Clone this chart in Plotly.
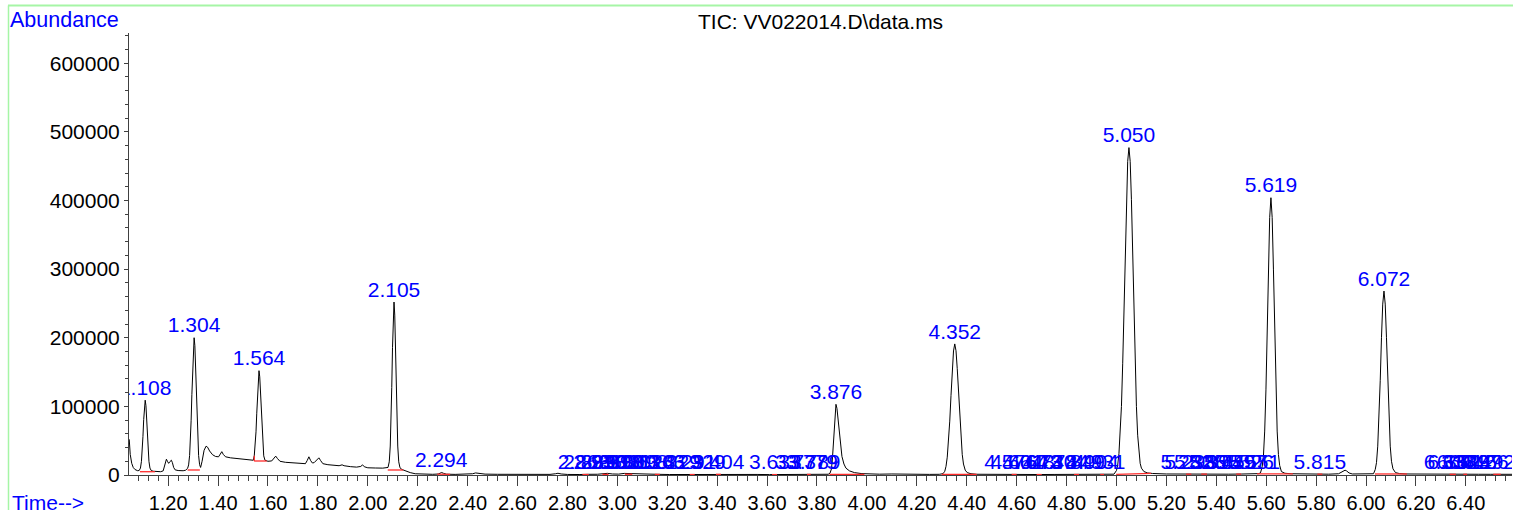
import plotly.graph_objects as go

# ---------------- data ----------------
tic_time = [
    1.044, 1.048, 1.054, 1.060, 1.067, 1.078, 1.084, 1.089, 1.093, 1.096, 1.099, 1.102, 1.105, 1.108,
    1.111, 1.114, 1.117, 1.120, 1.123, 1.127, 1.132, 1.140, 1.155, 1.170, 1.180, 1.185, 1.190, 1.193,
    1.197, 1.202, 1.207, 1.213, 1.217, 1.222, 1.228, 1.240, 1.260, 1.270, 1.278, 1.282, 1.286, 1.289,
    1.292, 1.295, 1.298, 1.301, 1.304, 1.307, 1.310, 1.313, 1.316, 1.319, 1.322, 1.326, 1.330, 1.336,
    1.344, 1.352, 1.358, 1.366, 1.378, 1.390, 1.402, 1.409, 1.415, 1.421, 1.430, 1.450, 1.480, 1.510,
    1.535, 1.541, 1.545, 1.549, 1.552, 1.555, 1.558, 1.561, 1.564, 1.567, 1.570, 1.573, 1.576, 1.579,
    1.583, 1.588, 1.600, 1.615, 1.624, 1.631, 1.638, 1.648, 1.670, 1.700, 1.730, 1.750, 1.757, 1.764,
    1.771, 1.778, 1.785, 1.797, 1.804, 1.811, 1.820, 1.840, 1.860, 1.885, 1.897, 1.905, 1.930, 1.955,
    1.972, 1.979, 1.986, 2.000, 2.030, 2.060, 2.081, 2.086, 2.090, 2.093, 2.096, 2.099, 2.102, 2.105,
    2.108, 2.111, 2.114, 2.117, 2.120, 2.124, 2.129, 2.137, 2.150, 2.170, 2.190, 2.220, 2.260, 2.282,
    2.290, 2.296, 2.303, 2.315, 2.350, 2.400, 2.420, 2.432, 2.445, 2.470, 2.520, 2.570, 2.620, 2.680,
    2.730, 2.752, 2.762, 2.775, 2.800, 2.850, 2.870, 2.885, 2.920, 2.945, 2.960, 2.980, 3.005, 3.028,
    3.045, 3.070, 3.110, 3.160, 3.210, 3.260, 3.310, 3.360, 3.400, 3.430, 3.500, 3.560, 3.610, 3.660,
    3.710, 3.760, 3.800, 3.835, 3.845, 3.852, 3.858, 3.862, 3.866, 3.870, 3.873, 3.876, 3.880, 3.885,
    3.890, 3.895, 3.900, 3.908, 3.916, 3.930, 3.950, 3.980, 4.010, 4.050, 4.100, 4.150, 4.200, 4.250,
    4.290, 4.305, 4.312, 4.317, 4.322, 4.327, 4.332, 4.337, 4.342, 4.347, 4.352, 4.357, 4.362, 4.367,
    4.372, 4.377, 4.382, 4.387, 4.394, 4.402, 4.417, 4.440, 4.480, 4.520, 4.560, 4.600, 4.650, 4.700,
    4.750, 4.800, 4.850, 4.900, 4.950, 4.990, 5.000, 5.005, 5.010, 5.015, 5.020, 5.025, 5.030, 5.035,
    5.040, 5.045, 5.050, 5.055, 5.060, 5.065, 5.070, 5.075, 5.080, 5.085, 5.090, 5.095, 5.100, 5.110,
    5.125, 5.145, 5.200, 5.250, 5.300, 5.350, 5.400, 5.450, 5.500, 5.550, 5.570, 5.577, 5.584, 5.589,
    5.594, 5.599, 5.604, 5.609, 5.614, 5.619, 5.624, 5.629, 5.634, 5.639, 5.644, 5.649, 5.654, 5.661,
    5.675, 5.700, 5.750, 5.800, 5.850, 5.890, 5.900, 5.910, 5.916, 5.922, 5.932, 5.945, 5.980, 6.010,
    6.030, 6.037, 6.042, 6.047, 6.052, 6.057, 6.062, 6.067, 6.072, 6.077, 6.082, 6.087, 6.092, 6.097,
    6.102, 6.108, 6.118, 6.135, 6.160, 6.200, 6.250, 6.300, 6.350, 6.400, 6.450, 6.500, 6.550, 6.600,
]
tic_abund = [
    52000, 30000, 17000, 11000, 8000, 6200, 6600, 10100, 19900, 34600, 56000, 80800, 101000, 109000,
    101000, 80800, 56000, 34600, 19900, 10100, 6600, 5500, 5000, 4800, 6000, 12000, 21000, 23000,
    20000, 17000, 19500, 21500, 18000, 11000, 7500, 6500, 6200, 7000, 9700, 14700, 28500, 48000,
    79000, 117000, 158000, 188500, 200000, 188500, 158000, 117000, 79000, 48000, 28500, 15000, 11000, 20000,
    36000, 42000, 40500, 35000, 29500, 27000, 26500, 30500, 34000, 30000, 26500, 25000, 23500, 22000,
    21000, 21500, 27900, 42700, 62900, 90000, 119700, 143000, 152000, 143000, 119700, 90000, 62900, 42700,
    27900, 21500, 20000, 20500, 24500, 27500, 24000, 20000, 18500, 17500, 16500, 16500, 21000, 26500,
    21000, 17500, 18000, 22000, 25000, 21000, 16500, 15000, 14200, 13500, 14800, 13500, 12200, 11500,
    12500, 14800, 12000, 10500, 10200, 10000, 11000, 19200, 42200, 77000, 127600, 185500, 233000, 252000,
    233000, 185500, 127600, 77000, 42200, 19200, 10500, 8000, 6000, 3500, 1800, 1200, 1000, 1400,
    3000, 3600, 2500, 1200, 900, 900, 1800, 3000, 2200, 1300, 1000, 800, 900, 700,
    900, 1800, 2500, 1500, 800, 700, 1300, 1000, 1100, 1900, 2400, 1500, 1300, 2300,
    2100, 1100, 800, 1000, 700, 800, 700, 900, 1300, 800, 700, 800, 600, 800,
    900, 900, 1000, 900, 1100, 2500, 9000, 25000, 50000, 80000, 97000, 103000, 97000, 78000,
    55000, 40000, 27000, 16000, 10000, 6000, 3500, 2000, 1500, 1200, 1500, 1000, 800, 900,
    1000, 1900, 5400, 12600, 26000, 47600, 78500, 116000, 153000, 180700, 191000, 181000, 155000, 120000,
    84000, 53000, 30000, 16000, 7000, 3500, 1800, 1100, 900, 800, 1000, 800, 900, 700,
    800, 700, 800, 700, 800, 1200, 6500, 14500, 31000, 58000, 100000, 162000, 238000, 323000,
    401000, 457000, 477000, 457000, 401000, 323000, 238000, 162000, 100000, 58000, 32000, 17000, 10000, 5000,
    3000, 2200, 1500, 1300, 1200, 1500, 1300, 1200, 1400, 1500, 2000, 3000, 12000, 28000,
    64000, 124000, 208000, 300000, 375000, 404000, 375000, 300000, 208000, 124000, 64000, 30000, 14000, 5000,
    2500, 1800, 1500, 1300, 1200, 1800, 3500, 6000, 7000, 6000, 3000, 1500, 1200, 1300,
    1800, 8000, 18000, 42000, 82000, 138000, 200000, 249000, 268000, 249000, 200000, 138000, 82000, 42000,
    20000, 9000, 3500, 2000, 1500, 1300, 1200, 1100, 1200, 1000, 1100, 1000, 1100, 1000,
]

# integrated peaks: retention time, label text and the abundance the label sits on
peak_rt = [
    1.108, 1.304, 1.564, 2.105, 2.294,
    2.866, 2.889, 2.930, 2.960, 2.998, 3.030, 3.063, 3.098, 3.124, 3.166, 3.229, 3.291, 3.329, 3.404,
    3.633, 3.737, 3.779, 3.789, 3.876, 4.352,
    4.576, 4.601, 4.648, 4.673, 4.730, 4.784, 4.849, 4.904, 4.931,
    5.050, 5.282, 5.298, 5.336, 5.395, 5.455, 5.497, 5.526, 5.551, 5.619, 5.815, 6.072,
    6.337, 6.352, 6.389, 6.412, 6.437, 6.466, 6.492,
]
peak_label = [f"{t:.3f}" for t in peak_rt]
peak_abund = [
    109000, 200000, 152000, 252000, 3600,
    1500, 1500, 1500, 1500, 1500, 1500, 1500, 1500, 1500, 1500, 1500, 1500, 1500, 1500,
    1500, 1500, 1500, 1500, 103000, 191000,
    1500, 1500, 1500, 1500, 1500, 1500, 1500, 1500, 1500,
    477000, 1500, 1500, 1500, 1500, 1500, 1500, 1500, 1500, 404000, 1500, 268000,
    1500, 1500, 1500, 1500, 1500, 1500, 1500,
]

# integration baselines (red): start/end time and abundance
base_t0 = [1.087, 1.278, 1.545, 1.545, 2.080, 2.278, 2.860, 2.940, 3.030, 3.150, 3.290, 3.395, 3.620,
           3.760, 3.850, 4.300, 4.580, 4.680, 4.830, 4.935, 4.999, 5.279, 5.340, 5.480, 5.563, 5.805,
           6.036, 6.335, 6.390, 6.510]
base_t1 = [1.147, 1.327, 1.545, 1.595, 2.142, 2.330, 2.885, 2.965, 3.060, 3.170, 3.310, 3.415, 3.640,
           3.775, 3.990, 4.440, 4.600, 4.700, 4.850, 4.950, 5.139, 5.300, 5.363, 5.500, 5.707, 5.825,
           6.164, 6.360, 6.405, 6.540]
base_a0 = [4800, 7300, 28000, 20400, 7300, 1200, 700, 900, 1100, 900, 700, 1000, 600,
           900, 900, 900, 800, 700, 700, 700, 1000, 1200, 1300, 1300, 1500, 1200,
           1500, 1000, 1000, 1000]
base_a1 = [4800, 7300, 20400, 20400, 7300, 1000, 700, 900, 1100, 900, 700, 1000, 600,
           900, 1000, 900, 800, 700, 700, 700, 2500, 1200, 1300, 1300, 1500, 1200,
           1500, 1000, 1000, 1000]

x_ticks_major = 0.2
x_ticks_minor = 0.04
y_tick_values = [0, 100000, 200000, 300000, 400000, 500000, 600000]

# ---------------- figure ----------------
FONT = "Liberation Sans, Arial, sans-serif"
BLUE = "#0000ff"

fig = go.Figure()
fig.add_trace(go.Scatter(x=tic_time, y=tic_abund, mode="lines",
                         line=dict(color="black", width=1), hoverinfo="skip"))

bx, by = [], []
for a, b, c, d in zip(base_t0, base_t1, base_a0, base_a1):
    bx += [a, b, None]
    by += [c, d, None]
fig.add_trace(go.Scatter(x=bx, y=by, mode="lines",
                         line=dict(color="#ff2a2a", width=1.3), hoverinfo="skip"))

fig.add_trace(go.Scatter(x=peak_rt, y=peak_abund, mode="text", text=peak_label,
                         textposition="top center", cliponaxis=True,
                         textfont=dict(family=FONT, size=21, color=BLUE), hoverinfo="skip"))

W, H = 1513, 510
ML, MR, MT, MB = 129, 1, 33, 35
PW, PH = W - ML - MR, H - MT - MB


def px(xp):
    return (xp - ML) / PW


def py(yp):
    return (H - MB - yp) / PH


fig.update_layout(
    width=W, height=H,
    margin=dict(l=ML, r=MR, t=MT, b=MB, autoexpand=False),
    paper_bgcolor="white", plot_bgcolor="white",
    showlegend=False, hovermode=False,
    font=dict(family=FONT, color="black"),
    xaxis=dict(range=[1.0431, 6.585], showgrid=False, zeroline=False, automargin=False,
               showline=True, linecolor="#404040", linewidth=1,
               ticks="outside", ticklen=10, tickcolor="#404040", tickwidth=1,
               tick0=0, dtick=x_ticks_major, tickformat=".2f",
               tickfont=dict(family=FONT, size=20, color="black"),
               minor=dict(ticks="outside", ticklen=5, dtick=x_ticks_minor, tick0=0,
                          tickcolor="#404040", showgrid=False)),
    yaxis=dict(range=[0, 644000], showgrid=False, zeroline=False, automargin=False,
               showline=True, linecolor="#404040", linewidth=1,
               ticks="outside", ticklen=4, tickcolor="#404040", tickwidth=1,
               tickvals=y_tick_values, ticktext=[str(v) for v in y_tick_values],
               tickfont=dict(family=FONT, size=21, color="black"),
               minor=dict(ticks="outside", ticklen=3, dtick=20000, tick0=0,
                          tickcolor="#404040", showgrid=False)),
    shapes=[
        dict(type="line", xref="paper", yref="paper", x0=px(8), x1=px(1513), y0=py(5.5), y1=py(5.5),
             line=dict(color="#a6f5a6", width=2)),
        dict(type="line", xref="paper", yref="paper", x0=px(8.5), x1=px(8.5), y0=py(5.5), y1=py(512),
             line=dict(color="#a6f5a6", width=1.5)),
    ],
    annotations=[
        dict(text="TIC: VV022014.D\\data.ms", xref="paper", yref="paper", x=px(820), y=py(21.5),
             xanchor="center", yanchor="middle", showarrow=False,
             font=dict(family=FONT, size=21, color="black")),
        dict(text="Abundance", xref="paper", yref="paper", x=px(8), y=py(19.5),
             xanchor="left", yanchor="middle", showarrow=False,
             font=dict(family=FONT, size=21.5, color=BLUE)),
        dict(text="Time-->", xref="paper", yref="paper", x=px(10), y=py(502),
             xanchor="left", yanchor="middle", showarrow=False,
             font=dict(family=FONT, size=21, color=BLUE)),
    ],
)

fig.write_html("out.html", config={"displayModeBar": False},
               post_script="document.body.style.margin='0';document.body.style.padding='0';"
                           "document.body.style.overflow='hidden';")
